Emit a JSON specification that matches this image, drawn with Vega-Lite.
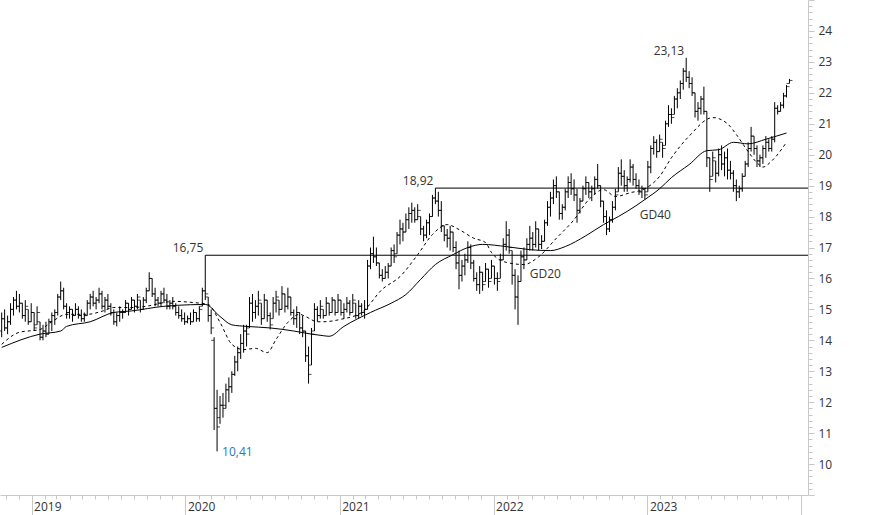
{
  "$schema": "https://vega.github.io/schema/vega-lite/v6.json",
  "width": 808,
  "height": 495,
  "autosize": {"type": "none"},
  "padding": {"left": 0, "top": 0, "right": 66, "bottom": 20},
  "background": "white",
  "config": {"view": {"stroke": null}, "font": "Open Sans"},
  "datasets": {
    "ohlc": [
      {"d":"2018-10-22","o":14.3,"h":14.9,"l":14.1,"c":14.7},
      {"d":"2018-10-29","o":14.7,"h":15.0,"l":14.3,"c":14.4},
      {"d":"2018-11-05","o":14.4,"h":14.8,"l":14.2,"c":14.6},
      {"d":"2018-11-12","o":14.6,"h":15.2,"l":14.5,"c":15.0},
      {"d":"2018-11-19","o":15.0,"h":15.4,"l":14.8,"c":15.3},
      {"d":"2018-11-26","o":15.3,"h":15.6,"l":15.0,"c":15.1},
      {"d":"2018-12-03","o":15.1,"h":15.5,"l":14.9,"c":15.2},
      {"d":"2018-12-10","o":15.2,"h":15.2,"l":14.7,"c":14.8},
      {"d":"2018-12-17","o":14.8,"h":15.3,"l":14.6,"c":15.1},
      {"d":"2018-12-24","o":15.0,"h":15.0,"l":14.5,"c":14.6},
      {"d":"2018-12-31","o":14.6,"h":15.2,"l":14.6,"c":14.9},
      {"d":"2019-01-07","o":14.9,"h":14.9,"l":14.3,"c":14.4},
      {"d":"2019-01-14","o":14.5,"h":15.1,"l":14.5,"c":14.9},
      {"d":"2019-01-21","o":14.6,"h":14.6,"l":14.0,"c":14.1},
      {"d":"2019-01-28","o":14.1,"h":14.5,"l":14.0,"c":14.3},
      {"d":"2019-02-04","o":14.3,"h":14.6,"l":14.1,"c":14.2},
      {"d":"2019-02-11","o":14.2,"h":14.7,"l":14.2,"c":14.6},
      {"d":"2019-02-18","o":14.6,"h":14.9,"l":14.3,"c":14.8},
      {"d":"2019-02-25","o":14.8,"h":15.0,"l":14.5,"c":14.9},
      {"d":"2019-03-04","o":14.9,"h":15.5,"l":14.8,"c":15.4},
      {"d":"2019-03-11","o":15.4,"h":15.9,"l":15.3,"c":15.6},
      {"d":"2019-03-18","o":15.6,"h":15.7,"l":15.0,"c":15.1},
      {"d":"2019-03-25","o":15.1,"h":15.2,"l":14.7,"c":14.9},
      {"d":"2019-04-01","o":14.9,"h":15.1,"l":14.7,"c":15.0},
      {"d":"2019-04-08","o":15.0,"h":15.0,"l":14.6,"c":14.8},
      {"d":"2019-04-15","o":14.8,"h":15.2,"l":14.8,"c":15.0},
      {"d":"2019-04-22","o":15.0,"h":15.1,"l":14.7,"c":14.8},
      {"d":"2019-04-29","o":14.8,"h":15.0,"l":14.6,"c":14.7},
      {"d":"2019-05-06","o":14.7,"h":14.9,"l":14.6,"c":14.8},
      {"d":"2019-05-13","o":14.8,"h":15.3,"l":14.8,"c":15.2},
      {"d":"2019-05-20","o":15.2,"h":15.5,"l":15.0,"c":15.4},
      {"d":"2019-05-27","o":15.4,"h":15.6,"l":15.1,"c":15.2},
      {"d":"2019-06-03","o":15.2,"h":15.4,"l":15.0,"c":15.3},
      {"d":"2019-06-10","o":15.3,"h":15.7,"l":15.2,"c":15.5},
      {"d":"2019-06-17","o":15.5,"h":15.6,"l":15.0,"c":15.1},
      {"d":"2019-06-24","o":15.1,"h":15.4,"l":14.9,"c":15.3},
      {"d":"2019-07-01","o":15.3,"h":15.5,"l":15.0,"c":15.1},
      {"d":"2019-07-08","o":15.1,"h":15.2,"l":14.8,"c":14.9},
      {"d":"2019-07-15","o":14.9,"h":15.0,"l":14.5,"c":14.6},
      {"d":"2019-07-22","o":14.6,"h":14.9,"l":14.45,"c":14.8},
      {"d":"2019-07-29","o":14.8,"h":15.1,"l":14.6,"c":14.9},
      {"d":"2019-08-05","o":14.9,"h":15.0,"l":14.7,"c":14.9},
      {"d":"2019-08-12","o":14.9,"h":15.3,"l":14.9,"c":15.2},
      {"d":"2019-08-19","o":15.2,"h":15.2,"l":14.8,"c":15.0},
      {"d":"2019-08-26","o":15.0,"h":15.4,"l":15.0,"c":15.3},
      {"d":"2019-09-02","o":15.3,"h":15.3,"l":14.9,"c":15.1},
      {"d":"2019-09-09","o":15.1,"h":15.5,"l":15.0,"c":15.4},
      {"d":"2019-09-16","o":15.3,"h":15.3,"l":14.9,"c":15.0},
      {"d":"2019-09-23","o":15.0,"h":15.4,"l":15.0,"c":15.3},
      {"d":"2019-09-30","o":15.3,"h":15.7,"l":15.2,"c":15.6},
      {"d":"2019-10-07","o":15.6,"h":16.2,"l":15.6,"c":16.0},
      {"d":"2019-10-14","o":16.0,"h":16.0,"l":15.4,"c":15.5},
      {"d":"2019-10-21","o":15.5,"h":15.7,"l":15.1,"c":15.3},
      {"d":"2019-10-28","o":15.3,"h":15.4,"l":15.1,"c":15.2},
      {"d":"2019-11-04","o":15.2,"h":15.6,"l":15.1,"c":15.5},
      {"d":"2019-11-11","o":15.5,"h":15.7,"l":15.2,"c":15.3},
      {"d":"2019-11-18","o":15.3,"h":15.5,"l":15.0,"c":15.1},
      {"d":"2019-11-25","o":15.1,"h":15.3,"l":15.0,"c":15.2},
      {"d":"2019-12-02","o":15.2,"h":15.4,"l":15.0,"c":15.1},
      {"d":"2019-12-09","o":15.1,"h":15.2,"l":14.8,"c":14.9},
      {"d":"2019-12-16","o":14.9,"h":15.1,"l":14.7,"c":14.8},
      {"d":"2019-12-23","o":14.8,"h":15.0,"l":14.6,"c":14.7},
      {"d":"2019-12-30","o":14.7,"h":14.9,"l":14.5,"c":14.6},
      {"d":"2020-01-06","o":14.6,"h":14.8,"l":14.55,"c":14.7},
      {"d":"2020-01-13","o":14.7,"h":14.9,"l":14.5,"c":14.6},
      {"d":"2020-01-20","o":14.6,"h":15.0,"l":14.6,"c":14.9},
      {"d":"2020-01-27","o":14.9,"h":14.9,"l":14.6,"c":14.7},
      {"d":"2020-02-03","o":14.7,"h":15.1,"l":14.6,"c":15.0},
      {"d":"2020-02-10","o":15.1,"h":15.7,"l":15.1,"c":15.6},
      {"d":"2020-02-17","o":15.6,"h":16.75,"l":15.3,"c":15.5},
      {"d":"2020-02-24","o":15.4,"h":15.4,"l":14.6,"c":14.8},
      {"d":"2020-03-02","o":14.8,"h":15.0,"l":14.2,"c":14.4},
      {"d":"2020-03-09","o":14.0,"h":14.1,"l":11.1,"c":11.8},
      {"d":"2020-03-16","o":11.8,"h":12.4,"l":10.41,"c":11.2},
      {"d":"2020-03-23","o":11.5,"h":12.2,"l":11.3,"c":11.9},
      {"d":"2020-03-30","o":11.9,"h":12.3,"l":11.5,"c":11.8},
      {"d":"2020-04-06","o":11.9,"h":12.6,"l":11.8,"c":12.4},
      {"d":"2020-04-13","o":12.4,"h":12.8,"l":12.0,"c":12.5},
      {"d":"2020-04-20","o":12.5,"h":13.0,"l":12.3,"c":12.9},
      {"d":"2020-04-27","o":12.9,"h":13.5,"l":12.85,"c":13.3},
      {"d":"2020-05-04","o":13.3,"h":13.8,"l":13.0,"c":13.6},
      {"d":"2020-05-11","o":13.6,"h":14.2,"l":13.4,"c":13.9},
      {"d":"2020-05-18","o":13.9,"h":14.5,"l":13.6,"c":14.3},
      {"d":"2020-05-25","o":14.3,"h":14.5,"l":13.8,"c":14.2},
      {"d":"2020-06-01","o":14.4,"h":15.4,"l":14.4,"c":15.2},
      {"d":"2020-06-08","o":15.2,"h":15.5,"l":14.6,"c":14.9},
      {"d":"2020-06-15","o":14.9,"h":15.3,"l":14.7,"c":15.1},
      {"d":"2020-06-22","o":15.1,"h":15.6,"l":14.8,"c":15.3},
      {"d":"2020-06-29","o":15.2,"h":15.2,"l":14.5,"c":14.7},
      {"d":"2020-07-06","o":14.7,"h":15.5,"l":14.7,"c":15.3},
      {"d":"2020-07-13","o":15.3,"h":15.3,"l":14.6,"c":14.8},
      {"d":"2020-07-20","o":14.8,"h":14.9,"l":14.35,"c":14.5},
      {"d":"2020-07-27","o":14.7,"h":15.4,"l":14.7,"c":15.2},
      {"d":"2020-08-03","o":15.2,"h":15.6,"l":14.9,"c":15.4},
      {"d":"2020-08-10","o":15.3,"h":15.3,"l":14.8,"c":15.0},
      {"d":"2020-08-17","o":15.0,"h":15.75,"l":15.0,"c":15.5},
      {"d":"2020-08-24","o":15.5,"h":15.5,"l":14.9,"c":15.1},
      {"d":"2020-08-31","o":15.1,"h":15.7,"l":15.0,"c":15.4},
      {"d":"2020-09-07","o":15.4,"h":15.4,"l":14.8,"c":14.9},
      {"d":"2020-09-14","o":14.9,"h":15.0,"l":14.5,"c":14.7},
      {"d":"2020-09-21","o":14.7,"h":15.1,"l":14.4,"c":14.9},
      {"d":"2020-09-28","o":14.9,"h":14.9,"l":14.2,"c":14.4},
      {"d":"2020-10-05","o":14.4,"h":14.8,"l":14.1,"c":14.3},
      {"d":"2020-10-12","o":14.3,"h":14.3,"l":13.3,"c":13.5},
      {"d":"2020-10-19","o":13.5,"h":13.8,"l":12.6,"c":12.9},
      {"d":"2020-10-26","o":13.2,"h":14.4,"l":13.2,"c":14.2},
      {"d":"2020-11-02","o":14.3,"h":15.2,"l":14.3,"c":15.0},
      {"d":"2020-11-09","o":15.0,"h":15.1,"l":14.6,"c":14.8},
      {"d":"2020-11-16","o":14.8,"h":15.3,"l":14.7,"c":15.1},
      {"d":"2020-11-23","o":15.0,"h":15.0,"l":14.7,"c":14.8},
      {"d":"2020-11-30","o":14.8,"h":15.4,"l":14.8,"c":15.2},
      {"d":"2020-12-07","o":15.2,"h":15.2,"l":14.8,"c":14.9},
      {"d":"2020-12-14","o":14.9,"h":15.4,"l":14.9,"c":15.3},
      {"d":"2020-12-21","o":15.3,"h":15.3,"l":14.8,"c":14.9},
      {"d":"2020-12-28","o":14.9,"h":15.5,"l":14.9,"c":15.3},
      {"d":"2021-01-04","o":15.3,"h":15.3,"l":14.8,"c":14.9},
      {"d":"2021-01-11","o":14.9,"h":15.2,"l":14.7,"c":15.0},
      {"d":"2021-01-18","o":15.0,"h":15.4,"l":14.9,"c":15.2},
      {"d":"2021-01-25","o":15.2,"h":15.3,"l":14.8,"c":14.9},
      {"d":"2021-02-01","o":14.9,"h":15.5,"l":14.9,"c":15.3},
      {"d":"2021-02-08","o":15.2,"h":15.2,"l":14.7,"c":14.8},
      {"d":"2021-02-15","o":14.8,"h":15.3,"l":14.7,"c":15.1},
      {"d":"2021-02-22","o":15.1,"h":15.2,"l":14.8,"c":14.9},
      {"d":"2021-03-01","o":14.9,"h":15.3,"l":14.7,"c":15.0},
      {"d":"2021-03-08","o":15.0,"h":16.6,"l":15.0,"c":16.4},
      {"d":"2021-03-15","o":16.4,"h":17.0,"l":16.3,"c":16.8},
      {"d":"2021-03-22","o":16.8,"h":17.35,"l":16.5,"c":16.7},
      {"d":"2021-03-29","o":16.7,"h":17.0,"l":16.4,"c":16.5},
      {"d":"2021-04-05","o":16.5,"h":16.5,"l":16.0,"c":16.1},
      {"d":"2021-04-12","o":16.1,"h":16.3,"l":15.9,"c":16.0},
      {"d":"2021-04-19","o":16.0,"h":16.4,"l":16.0,"c":16.2},
      {"d":"2021-04-26","o":16.2,"h":16.5,"l":16.0,"c":16.4},
      {"d":"2021-05-03","o":16.4,"h":17.0,"l":16.4,"c":16.9},
      {"d":"2021-05-10","o":16.9,"h":17.1,"l":16.5,"c":16.7},
      {"d":"2021-05-17","o":16.8,"h":17.5,"l":16.8,"c":17.4},
      {"d":"2021-05-24","o":17.4,"h":17.9,"l":17.1,"c":17.6},
      {"d":"2021-05-31","o":17.6,"h":17.8,"l":17.2,"c":17.5},
      {"d":"2021-06-07","o":17.5,"h":18.1,"l":17.5,"c":17.9},
      {"d":"2021-06-14","o":17.9,"h":18.3,"l":17.6,"c":18.1},
      {"d":"2021-06-21","o":18.1,"h":18.45,"l":17.8,"c":18.2},
      {"d":"2021-06-28","o":18.2,"h":18.3,"l":17.8,"c":17.9},
      {"d":"2021-07-05","o":17.9,"h":18.4,"l":17.9,"c":18.2},
      {"d":"2021-07-12","o":18.0,"h":18.0,"l":17.4,"c":17.6},
      {"d":"2021-07-19","o":17.6,"h":17.7,"l":17.2,"c":17.4},
      {"d":"2021-07-26","o":17.4,"h":17.9,"l":17.3,"c":17.8},
      {"d":"2021-08-02","o":17.8,"h":18.1,"l":17.4,"c":18.0},
      {"d":"2021-08-09","o":18.0,"h":18.7,"l":18.0,"c":18.6},
      {"d":"2021-08-16","o":18.6,"h":18.92,"l":18.4,"c":18.5},
      {"d":"2021-08-23","o":18.5,"h":18.8,"l":18.0,"c":18.2},
      {"d":"2021-08-30","o":18.2,"h":18.5,"l":17.5,"c":17.7},
      {"d":"2021-09-06","o":17.7,"h":17.7,"l":17.2,"c":17.4},
      {"d":"2021-09-13","o":17.4,"h":17.6,"l":17.0,"c":17.3},
      {"d":"2021-09-20","o":17.3,"h":17.7,"l":16.9,"c":17.5},
      {"d":"2021-09-27","o":17.5,"h":17.5,"l":16.85,"c":17.0},
      {"d":"2021-10-04","o":17.0,"h":17.2,"l":16.3,"c":16.5},
      {"d":"2021-10-11","o":16.5,"h":16.9,"l":15.65,"c":16.1},
      {"d":"2021-10-18","o":16.1,"h":16.6,"l":15.9,"c":16.4},
      {"d":"2021-10-25","o":16.4,"h":16.8,"l":16.1,"c":16.6},
      {"d":"2021-11-01","o":16.6,"h":17.2,"l":16.5,"c":17.0},
      {"d":"2021-11-08","o":17.0,"h":17.1,"l":16.3,"c":16.5},
      {"d":"2021-11-15","o":16.5,"h":16.6,"l":15.9,"c":16.0},
      {"d":"2021-11-22","o":16.0,"h":16.2,"l":15.6,"c":15.8},
      {"d":"2021-11-29","o":15.8,"h":16.4,"l":15.5,"c":16.2},
      {"d":"2021-12-06","o":16.2,"h":16.2,"l":15.6,"c":15.8},
      {"d":"2021-12-13","o":15.9,"h":16.5,"l":15.9,"c":16.3},
      {"d":"2021-12-20","o":16.3,"h":16.3,"l":15.7,"c":15.9},
      {"d":"2021-12-27","o":16.0,"h":16.6,"l":16.0,"c":16.4},
      {"d":"2022-01-03","o":16.4,"h":16.4,"l":15.8,"c":16.0},
      {"d":"2022-01-10","o":16.0,"h":16.2,"l":15.6,"c":15.9},
      {"d":"2022-01-17","o":16.0,"h":16.8,"l":16.0,"c":16.6},
      {"d":"2022-01-24","o":16.6,"h":17.3,"l":16.6,"c":17.1},
      {"d":"2022-01-31","o":17.1,"h":17.85,"l":16.9,"c":17.4},
      {"d":"2022-02-07","o":17.4,"h":17.6,"l":16.8,"c":17.0},
      {"d":"2022-02-14","o":16.9,"h":16.9,"l":15.8,"c":16.1},
      {"d":"2022-02-21","o":16.1,"h":16.3,"l":15.0,"c":15.4},
      {"d":"2022-02-28","o":15.4,"h":16.1,"l":14.5,"c":15.9},
      {"d":"2022-03-07","o":15.9,"h":16.9,"l":15.9,"c":16.7},
      {"d":"2022-03-14","o":16.7,"h":17.0,"l":16.3,"c":16.6},
      {"d":"2022-03-21","o":16.6,"h":17.3,"l":16.6,"c":17.1},
      {"d":"2022-03-28","o":17.1,"h":17.7,"l":16.9,"c":17.3},
      {"d":"2022-04-04","o":17.3,"h":17.5,"l":16.9,"c":17.1},
      {"d":"2022-04-11","o":17.1,"h":17.85,"l":17.0,"c":17.6},
      {"d":"2022-04-18","o":17.6,"h":17.6,"l":16.9,"c":17.1},
      {"d":"2022-04-25","o":17.1,"h":17.4,"l":16.95,"c":17.2},
      {"d":"2022-05-02","o":17.2,"h":17.9,"l":17.2,"c":17.8},
      {"d":"2022-05-09","o":17.8,"h":18.5,"l":17.7,"c":18.3},
      {"d":"2022-05-16","o":18.3,"h":18.8,"l":18.0,"c":18.6},
      {"d":"2022-05-23","o":18.6,"h":19.2,"l":18.4,"c":19.0},
      {"d":"2022-05-30","o":19.0,"h":19.3,"l":18.6,"c":18.8},
      {"d":"2022-06-06","o":18.8,"h":18.8,"l":17.9,"c":18.1},
      {"d":"2022-06-13","o":18.1,"h":18.4,"l":17.9,"c":18.3},
      {"d":"2022-06-20","o":18.3,"h":18.9,"l":18.2,"c":18.8},
      {"d":"2022-06-27","o":18.8,"h":19.3,"l":18.6,"c":19.1},
      {"d":"2022-07-04","o":19.1,"h":19.4,"l":18.7,"c":18.9},
      {"d":"2022-07-11","o":18.9,"h":19.2,"l":18.5,"c":18.7},
      {"d":"2022-07-18","o":18.7,"h":18.9,"l":17.8,"c":18.2},
      {"d":"2022-07-25","o":18.2,"h":18.6,"l":18.1,"c":18.5},
      {"d":"2022-08-01","o":18.5,"h":19.0,"l":18.5,"c":18.9},
      {"d":"2022-08-08","o":18.9,"h":19.3,"l":18.7,"c":19.1},
      {"d":"2022-08-15","o":19.1,"h":19.1,"l":18.6,"c":18.8},
      {"d":"2022-08-22","o":18.8,"h":19.0,"l":18.5,"c":18.9},
      {"d":"2022-08-29","o":18.9,"h":19.3,"l":18.7,"c":19.2},
      {"d":"2022-09-05","o":19.2,"h":19.7,"l":18.9,"c":19.0},
      {"d":"2022-09-12","o":19.0,"h":19.0,"l":18.3,"c":18.5},
      {"d":"2022-09-19","o":18.5,"h":18.5,"l":17.8,"c":18.0},
      {"d":"2022-09-26","o":18.0,"h":18.2,"l":17.4,"c":17.6},
      {"d":"2022-10-03","o":17.6,"h":18.0,"l":17.5,"c":17.9},
      {"d":"2022-10-10","o":17.9,"h":18.5,"l":17.8,"c":18.3},
      {"d":"2022-10-17","o":18.3,"h":18.9,"l":18.2,"c":18.7},
      {"d":"2022-10-24","o":18.8,"h":19.6,"l":18.8,"c":19.4},
      {"d":"2022-10-31","o":19.4,"h":19.85,"l":19.0,"c":19.3},
      {"d":"2022-11-07","o":19.3,"h":19.5,"l":18.8,"c":19.0},
      {"d":"2022-11-14","o":19.0,"h":19.3,"l":18.8,"c":19.2},
      {"d":"2022-11-21","o":19.2,"h":19.85,"l":19.1,"c":19.6},
      {"d":"2022-11-28","o":19.6,"h":19.7,"l":19.0,"c":19.2},
      {"d":"2022-12-05","o":19.2,"h":19.4,"l":18.9,"c":19.0},
      {"d":"2022-12-12","o":19.0,"h":19.2,"l":18.7,"c":18.8},
      {"d":"2022-12-19","o":18.8,"h":19.0,"l":18.6,"c":18.9},
      {"d":"2022-12-26","o":18.9,"h":18.9,"l":18.55,"c":18.7},
      {"d":"2023-01-02","o":18.8,"h":19.8,"l":18.8,"c":19.6},
      {"d":"2023-01-09","o":19.6,"h":20.3,"l":19.4,"c":20.2},
      {"d":"2023-01-16","o":20.2,"h":20.6,"l":20.0,"c":20.4},
      {"d":"2023-01-23","o":20.4,"h":20.5,"l":19.9,"c":20.1},
      {"d":"2023-01-30","o":20.1,"h":20.65,"l":20.1,"c":20.5},
      {"d":"2023-02-06","o":20.4,"h":20.4,"l":19.9,"c":20.2},
      {"d":"2023-02-13","o":20.3,"h":21.1,"l":20.3,"c":21.0},
      {"d":"2023-02-20","o":21.0,"h":21.6,"l":20.9,"c":21.3},
      {"d":"2023-02-27","o":21.3,"h":21.5,"l":21.0,"c":21.2},
      {"d":"2023-03-06","o":21.3,"h":21.9,"l":21.3,"c":21.8},
      {"d":"2023-03-13","o":21.8,"h":22.15,"l":21.5,"c":22.0},
      {"d":"2023-03-20","o":22.0,"h":22.4,"l":21.8,"c":22.3},
      {"d":"2023-03-27","o":22.3,"h":22.8,"l":22.1,"c":22.7},
      {"d":"2023-04-03","o":22.7,"h":23.13,"l":22.35,"c":22.5},
      {"d":"2023-04-10","o":22.5,"h":22.7,"l":22.15,"c":22.3},
      {"d":"2023-04-17","o":22.3,"h":22.5,"l":21.9,"c":22.0},
      {"d":"2023-04-24","o":22.0,"h":22.0,"l":21.2,"c":21.4},
      {"d":"2023-05-01","o":21.4,"h":21.7,"l":21.1,"c":21.5},
      {"d":"2023-05-08","o":21.5,"h":21.9,"l":21.3,"c":21.8},
      {"d":"2023-05-15","o":21.8,"h":22.2,"l":21.3,"c":21.4},
      {"d":"2023-05-22","o":21.4,"h":21.4,"l":19.6,"c":19.9},
      {"d":"2023-05-29","o":19.9,"h":19.9,"l":18.8,"c":19.2},
      {"d":"2023-06-05","o":19.3,"h":20.1,"l":19.3,"c":19.9},
      {"d":"2023-06-12","o":19.8,"h":19.8,"l":19.1,"c":19.4},
      {"d":"2023-06-19","o":19.4,"h":20.2,"l":19.3,"c":20.0},
      {"d":"2023-06-26","o":20.0,"h":20.3,"l":19.5,"c":19.7},
      {"d":"2023-07-03","o":19.7,"h":20.1,"l":19.3,"c":19.9},
      {"d":"2023-07-10","o":19.9,"h":20.2,"l":19.2,"c":19.5},
      {"d":"2023-07-17","o":19.5,"h":19.8,"l":19.2,"c":19.4},
      {"d":"2023-07-24","o":19.4,"h":19.5,"l":18.8,"c":19.0},
      {"d":"2023-07-31","o":19.0,"h":19.2,"l":18.5,"c":18.8},
      {"d":"2023-08-07","o":18.8,"h":19.0,"l":18.6,"c":18.9},
      {"d":"2023-08-14","o":18.9,"h":19.4,"l":18.8,"c":19.3},
      {"d":"2023-08-21","o":19.3,"h":19.8,"l":19.3,"c":19.7},
      {"d":"2023-08-28","o":19.7,"h":20.4,"l":19.6,"c":20.2},
      {"d":"2023-09-04","o":20.2,"h":20.9,"l":20.1,"c":20.6},
      {"d":"2023-09-11","o":20.6,"h":20.6,"l":20.0,"c":20.2},
      {"d":"2023-09-18","o":20.2,"h":20.3,"l":19.6,"c":19.8},
      {"d":"2023-09-25","o":19.8,"h":20.0,"l":19.6,"c":19.9},
      {"d":"2023-10-02","o":19.9,"h":20.3,"l":19.7,"c":20.2},
      {"d":"2023-10-09","o":20.2,"h":20.6,"l":19.9,"c":20.4},
      {"d":"2023-10-16","o":20.4,"h":20.5,"l":20.1,"c":20.2},
      {"d":"2023-10-23","o":20.2,"h":20.6,"l":20.1,"c":20.5},
      {"d":"2023-10-30","o":20.5,"h":21.7,"l":20.4,"c":21.5},
      {"d":"2023-11-06","o":21.5,"h":21.6,"l":21.3,"c":21.4},
      {"d":"2023-11-13","o":21.4,"h":21.7,"l":21.4,"c":21.6},
      {"d":"2023-11-20","o":21.6,"h":22.0,"l":21.5,"c":21.9},
      {"d":"2023-11-27","o":21.9,"h":22.25,"l":21.85,"c":22.2},
      {"d":"2023-12-04","o":22.3,"h":22.45,"l":22.3,"c":22.4}
    ],
    "ma": [
      {"d":"2018-10-22","s":"GD40","v":13.77},
      {"d":"2019-01-21","s":"GD40","v":14.2},
      {"d":"2019-03-11","s":"GD40","v":14.3},
      {"d":"2019-03-25","s":"GD40","v":14.45},
      {"d":"2019-05-20","s":"GD40","v":14.6},
      {"d":"2019-07-15","s":"GD40","v":14.9},
      {"d":"2019-08-26","s":"GD40","v":14.95},
      {"d":"2019-11-11","s":"GD40","v":15.1},
      {"d":"2020-01-13","s":"GD40","v":15.15},
      {"d":"2020-02-17","s":"GD40","v":15.16},
      {"d":"2020-03-23","s":"GD40","v":14.77},
      {"d":"2020-04-20","s":"GD40","v":14.5},
      {"d":"2020-05-25","s":"GD40","v":14.45},
      {"d":"2020-07-20","s":"GD40","v":14.4},
      {"d":"2020-09-14","s":"GD40","v":14.3},
      {"d":"2020-10-26","s":"GD40","v":14.2},
      {"d":"2020-11-23","s":"GD40","v":14.15},
      {"d":"2020-12-07","s":"GD40","v":14.13},
      {"d":"2021-01-11","s":"GD40","v":14.45},
      {"d":"2021-03-15","s":"GD40","v":14.9},
      {"d":"2021-05-03","s":"GD40","v":15.2},
      {"d":"2021-06-07","s":"GD40","v":15.48},
      {"d":"2021-07-12","s":"GD40","v":15.97},
      {"d":"2021-08-16","s":"GD40","v":16.45},
      {"d":"2021-09-27","s":"GD40","v":16.77},
      {"d":"2021-11-01","s":"GD40","v":17.0},
      {"d":"2021-12-06","s":"GD40","v":17.1},
      {"d":"2022-01-31","s":"GD40","v":17.03},
      {"d":"2022-03-28","s":"GD40","v":16.93},
      {"d":"2022-05-16","s":"GD40","v":16.9},
      {"d":"2022-06-20","s":"GD40","v":17.03},
      {"d":"2022-08-08","s":"GD40","v":17.38},
      {"d":"2022-09-19","s":"GD40","v":17.74},
      {"d":"2022-10-24","s":"GD40","v":18.0},
      {"d":"2022-12-05","s":"GD40","v":18.35},
      {"d":"2022-12-26","s":"GD40","v":18.55},
      {"d":"2023-01-30","s":"GD40","v":18.9},
      {"d":"2023-02-27","s":"GD40","v":19.26},
      {"d":"2023-04-10","s":"GD40","v":19.68},
      {"d":"2023-05-22","s":"GD40","v":20.13},
      {"d":"2023-06-19","s":"GD40","v":20.16},
      {"d":"2023-07-24","s":"GD40","v":20.4},
      {"d":"2023-08-28","s":"GD40","v":20.35},
      {"d":"2023-10-09","s":"GD40","v":20.5},
      {"d":"2023-11-27","s":"GD40","v":20.7},
      {"d":"2018-10-22","s":"GD20","v":13.87},
      {"d":"2018-12-03","s":"GD20","v":14.26},
      {"d":"2019-01-21","s":"GD20","v":14.35},
      {"d":"2019-02-18","s":"GD20","v":14.6},
      {"d":"2019-03-25","s":"GD20","v":14.84},
      {"d":"2019-05-13","s":"GD20","v":14.84},
      {"d":"2019-06-17","s":"GD20","v":14.94},
      {"d":"2019-07-15","s":"GD20","v":15.06},
      {"d":"2019-08-26","s":"GD20","v":15.06},
      {"d":"2019-09-30","s":"GD20","v":15.1},
      {"d":"2019-11-11","s":"GD20","v":15.22},
      {"d":"2019-12-02","s":"GD20","v":15.26},
      {"d":"2020-01-20","s":"GD20","v":15.22},
      {"d":"2020-02-24","s":"GD20","v":15.16},
      {"d":"2020-03-23","s":"GD20","v":14.58},
      {"d":"2020-04-20","s":"GD20","v":13.87},
      {"d":"2020-05-18","s":"GD20","v":13.7},
      {"d":"2020-06-15","s":"GD20","v":13.74},
      {"d":"2020-07-13","s":"GD20","v":13.6},
      {"d":"2020-08-03","s":"GD20","v":14.03},
      {"d":"2020-08-31","s":"GD20","v":14.58},
      {"d":"2020-09-28","s":"GD20","v":14.84},
      {"d":"2020-10-12","s":"GD20","v":14.77},
      {"d":"2020-11-09","s":"GD20","v":14.6},
      {"d":"2020-11-23","s":"GD20","v":14.6},
      {"d":"2021-01-04","s":"GD20","v":14.68},
      {"d":"2021-02-22","s":"GD20","v":14.9},
      {"d":"2021-04-12","s":"GD20","v":15.65},
      {"d":"2021-05-24","s":"GD20","v":16.06},
      {"d":"2021-07-05","s":"GD20","v":16.77},
      {"d":"2021-08-09","s":"GD20","v":17.42},
      {"d":"2021-09-13","s":"GD20","v":17.74},
      {"d":"2021-10-11","s":"GD20","v":17.58},
      {"d":"2021-11-15","s":"GD20","v":17.3},
      {"d":"2021-12-13","s":"GD20","v":17.16},
      {"d":"2021-12-27","s":"GD20","v":16.84},
      {"d":"2022-01-31","s":"GD20","v":16.52},
      {"d":"2022-03-14","s":"GD20","v":16.45},
      {"d":"2022-04-18","s":"GD20","v":16.7},
      {"d":"2022-05-30","s":"GD20","v":17.3},
      {"d":"2022-07-11","s":"GD20","v":17.9},
      {"d":"2022-08-15","s":"GD20","v":18.55},
      {"d":"2022-09-19","s":"GD20","v":18.87},
      {"d":"2022-10-17","s":"GD20","v":18.65},
      {"d":"2022-11-21","s":"GD20","v":18.77},
      {"d":"2022-12-26","s":"GD20","v":18.9},
      {"d":"2023-01-30","s":"GD20","v":19.3},
      {"d":"2023-02-27","s":"GD20","v":19.9},
      {"d":"2023-04-10","s":"GD20","v":20.6},
      {"d":"2023-06-05","s":"GD20","v":21.2},
      {"d":"2023-07-10","s":"GD20","v":21.0},
      {"d":"2023-07-31","s":"GD20","v":20.65},
      {"d":"2023-08-28","s":"GD20","v":20.1},
      {"d":"2023-09-18","s":"GD20","v":19.74},
      {"d":"2023-10-02","s":"GD20","v":19.6},
      {"d":"2023-10-23","s":"GD20","v":19.8},
      {"d":"2023-11-27","s":"GD20","v":20.4}
    ],
    "levels": [
      {"d":"2020-02-17","e":"2024-01-17","v":16.75},
      {"d":"2021-08-16","e":"2024-01-17","v":18.92}
    ],
    "labelsTop": [
      {"d":"2020-02-17","v":16.75,"t":"16,75"},
      {"d":"2021-08-16","v":18.92,"t":"18,92"},
      {"d":"2023-04-03","v":23.13,"t":"23,13"}
    ],
    "labelsLow": [
      {"d":"2020-03-16","v":10.41,"t":"10,41"}
    ],
    "labelsMa": [
      {"d":"2022-03-28","v":16.14,"t":"GD20"},
      {"d":"2022-12-14","v":18.05,"t":"GD40"}
    ]
  },
  "layer": [
    {
      "data": {"name": "ohlc"},
      "mark": {"type": "rule", "color": "#000000", "strokeWidth": 1},
      "encoding": {
        "x": {
          "field": "d", "type": "temporal", "title": null,
          "scale": {"domain": [{"year": 2018, "month": 10, "date": 18}, {"year": 2024, "month": 1, "date": 17}]},
          "axis": {
            "orient": "bottom",
            "tickCount": {"interval": "month", "step": 1},
            "labelExpr": "(month(datum.value) == 0 && year(datum.value) < 2024) ? timeFormat(datum.value, '%Y') : ''",
            "tickSize": {"condition": {"test": "month(datum.value) == 0", "value": 20}, "value": 4},
            "labelAlign": "left",
            "labelBaseline": "top",
            "labelOffset": 2,
            "labelPadding": -14,
            "labelOverlap": false,
            "labelFlush": false,
            "labelBound": false,
            "labelFontSize": 12,
            "labelColor": "#333333",
            "domainColor": "#c8c8c8",
            "tickColor": "#c8c8c8",
            "grid": false
          }
        },
        "y": {
          "field": "l", "type": "quantitative", "title": null,
          "scale": {"domain": [9, 25], "nice": false, "zero": false},
          "axis": {
            "orient": "right",
            "tickCount": 200,
            "values": [9,9.2,9.4,9.6,9.8,10,10.2,10.4,10.6,10.8,11,11.2,11.4,11.6,11.8,12,12.2,12.4,12.6,12.8,13,13.2,13.4,13.6,13.8,14,14.2,14.4,14.6,14.8,15,15.2,15.4,15.6,15.8,16,16.2,16.4,16.6,16.8,17,17.2,17.4,17.6,17.8,18,18.2,18.4,18.6,18.8,19,19.2,19.4,19.6,19.8,20,20.2,20.4,20.6,20.8,21,21.2,21.4,21.6,21.8,22,22.2,22.4,22.6,22.8,23,23.2,23.4,23.6,23.8,24,24.2,24.4,24.6,24.8,25],
            "labelExpr": "(abs(datum.value - round(datum.value)) < 0.01 && datum.value > 9.5 && datum.value < 24.5) ? format(round(datum.value), 'd') : ''",
            "tickSize": {"condition": {"test": "abs(datum.value - round(datum.value)) < 0.01", "value": 6}, "value": 4},
            "labelPadding": 4,
            "labelOverlap": false,
            "labelFlush": false,
            "labelBound": false,
            "labelFontSize": 12,
            "labelColor": "#333333",
            "domainColor": "#c8c8c8",
            "tickColor": "#c8c8c8",
            "grid": false
          }
        },
        "y2": {"field": "h"}
      }
    },
    {
      "data": {"name": "ohlc"},
      "mark": {"type": "tick", "orient": "horizontal", "size": 3, "thickness": 1, "xOffset": -1.5, "color": "#000000"},
      "encoding": {
        "x": {"field": "d", "type": "temporal", "title": null},
        "y": {"field": "o", "type": "quantitative", "title": null}
      }
    },
    {
      "data": {"name": "ohlc"},
      "mark": {"type": "tick", "orient": "horizontal", "size": 3, "thickness": 1, "xOffset": 1.5, "color": "#000000"},
      "encoding": {
        "x": {"field": "d", "type": "temporal", "title": null},
        "y": {"field": "c", "type": "quantitative", "title": null}
      }
    },
    {
      "data": {"name": "ma"},
      "transform": [{"filter": "datum.s == 'GD20'"}],
      "mark": {"type": "line", "color": "#000000", "strokeWidth": 1, "strokeDash": [3, 3], "interpolate": "monotone"},
      "encoding": {
        "x": {"field": "d", "type": "temporal", "title": null},
        "y": {"field": "v", "type": "quantitative", "title": null}
      }
    },
    {
      "data": {"name": "ma"},
      "transform": [{"filter": "datum.s == 'GD40'"}],
      "mark": {"type": "line", "color": "#000000", "strokeWidth": 1, "interpolate": "monotone"},
      "encoding": {
        "x": {"field": "d", "type": "temporal", "title": null},
        "y": {"field": "v", "type": "quantitative", "title": null}
      }
    },
    {
      "data": {"name": "levels"},
      "mark": {"type": "rule", "color": "#000000", "strokeWidth": 1},
      "encoding": {
        "x": {"field": "d", "type": "temporal", "title": null},
        "x2": {"field": "e"},
        "y": {"field": "v", "type": "quantitative", "title": null}
      }
    },
    {
      "data": {"name": "labelsTop"},
      "mark": {"type": "text", "align": "right", "baseline": "alphabetic", "dx": -2, "dy": -3, "fontSize": 12, "color": "#333333"},
      "encoding": {
        "x": {"field": "d", "type": "temporal", "title": null},
        "y": {"field": "v", "type": "quantitative", "title": null},
        "text": {"field": "t"}
      }
    },
    {
      "data": {"name": "labelsLow"},
      "mark": {"type": "text", "align": "left", "baseline": "middle", "dx": 5, "dy": 1, "fontSize": 12, "color": "#2b78b8"},
      "encoding": {
        "x": {"field": "d", "type": "temporal", "title": null},
        "y": {"field": "v", "type": "quantitative", "title": null},
        "text": {"field": "t"}
      }
    },
    {
      "data": {"name": "labelsMa"},
      "mark": {"type": "text", "align": "left", "baseline": "middle", "fontSize": 12, "color": "#333333"},
      "encoding": {
        "x": {"field": "d", "type": "temporal", "title": null},
        "y": {"field": "v", "type": "quantitative", "title": null},
        "text": {"field": "t"}
      }
    }
  ]
}
